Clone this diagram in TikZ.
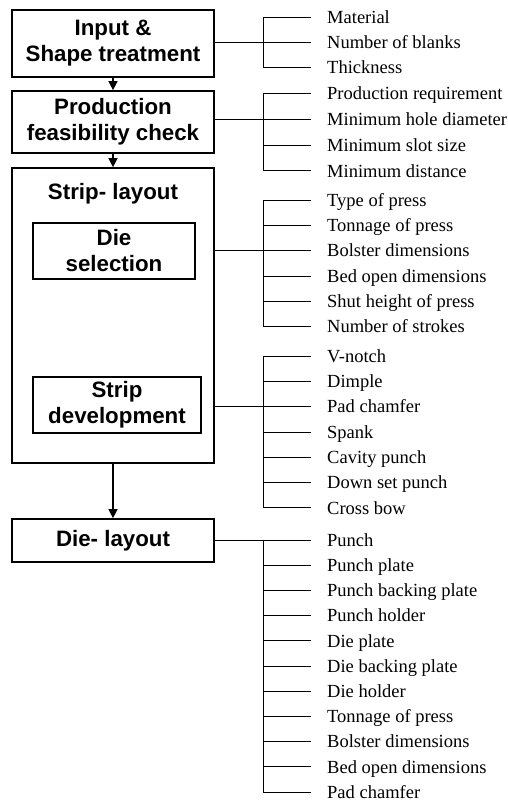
\documentclass[tikz,border=0pt]{standalone}
\usepackage{fontspec}
\setmainfont{Liberation Serif}
\newfontfamily\boxfont{Liberation Sans}
\usetikzlibrary{arrows.meta}

% One bracket of labels: #1 name, #2 first y, #3 spacing, #4 number of labels, #5 labels
\newcommand\labelgroup[5]{%
  \coordinate (#1-top) at (263,#2);
  \foreach \txt [count=\k] in {#5} {
    \node[item] (#1-\k) at (311,{#2+#3*(\k-1)}) {\txt};
    \draw[link] (#1-top |- #1-\k.west) -- (#1-\k.west);
  }
  \draw[link] (#1-top) -- (#1-top |- #1-#4.west);
}

\begin{document}
\begin{tikzpicture}[x=1pt,y=-1pt,
  box/.style={draw,line width=1.7pt,inner sep=0pt,align=center,
    font=\boxfont\bfseries\fontsize{22.3}{26}\selectfont},
  title/.style={inner sep=0pt,font=\boxfont\bfseries\fontsize{22.3}{26}\selectfont},
  flow/.style={line width=1.4pt,-{Triangle[length=9pt,width=9pt]}},
  link/.style={line width=0.8pt},
  item/.style={anchor=west,inner xsep=16pt,inner ysep=0pt,
    text height=12.5pt,text depth=0pt,font=\fontsize{18.5}{20}\selectfont}]

\useasboundingbox (0,0) rectangle (507,802);

% process boxes
\node[box,minimum width=202pt,minimum height=67pt] (input) at (113,43.5) {Input \&\\Shape treatment};
\node[box,minimum width=202pt,minimum height=62pt] (prod) at (113,122) {Production\\feasibility check};
\node[box,minimum width=202pt,minimum height=295pt] (strip) at (113,315.5) {};
\node[title] (striptitle) at (113,194) {Strip- layout};
\node[box,minimum width=162pt,minimum height=56pt] (diesel) at (114,251) {Die\\selection};
\node[box,minimum width=168pt,minimum height=56pt] (stripdev) at (117,405) {Strip\\development};
\node[box,minimum width=202pt,minimum height=43pt] (dielayout) at (113,540.5) {Die- layout};

% flow arrows
\draw[flow] (input.south) -- (prod.north);
\draw[flow] (prod.south) -- (strip.north);
\draw[flow] (strip.south) -- (dielayout.north);

% parameter brackets
\labelgroup{ga}{17.5}{25}{3}{Material,Number of blanks,Thickness}
\labelgroup{gb}{93.5}{25.8}{4}{Production requirement,Minimum hole diameter,Minimum slot size,Minimum distance}
\labelgroup{gc}{200}{25.3}{6}{Type of press,Tonnage of press,Bolster dimensions,Bed open dimensions,Shut height of press,Number of strokes}
\labelgroup{gd}{356}{25.3}{7}{V-notch,Dimple,Pad chamfer,Spank,Cavity punch,Down set punch,Cross bow}
\labelgroup{ge}{540}{25.2}{11}{Punch,Punch plate,Punch backing plate,Punch holder,Die plate,Die backing plate,Die holder,Tonnage of press,Bolster dimensions,Bed open dimensions,Pad chamfer}

% links from boxes to their brackets
\draw[link] (input.east |- ga-2.west) -- (ga-top |- ga-2.west);
\draw[link] (prod.east |- gb-2.west) -- (gb-top |- gb-2.west);
\draw[link] (strip.east |- gc-3.west) -- (gc-top |- gc-3.west);
\draw[link] (strip.east |- gd-3.west) -- (gd-top |- gd-3.west);
\draw[link] (dielayout.east |- ge-1.west) -- (ge-top |- ge-1.west);

\end{tikzpicture}
\end{document}
